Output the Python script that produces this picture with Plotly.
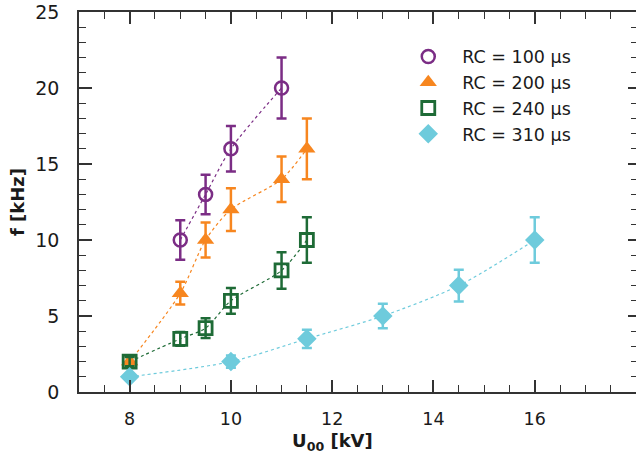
import plotly.graph_objects as go

# ---- data ----
x_rc100 = [9, 9.5, 10, 11]
y_rc100 = [10, 13, 16, 20]
e_rc100 = [1.3, 1.3, 1.5, 2.0]

x_rc200 = [8, 9, 9.5, 10, 11, 11.5]
y_rc200 = [2, 6.5, 10, 12, 14, 16]
e_rc200 = [0.3, 0.75, 1.15, 1.4, 1.5, 2.0]

x_rc240 = [8, 9, 9.5, 10, 11, 11.5]
y_rc240 = [2, 3.5, 4.2, 6, 8, 10]
e_rc240 = [0.3, 0.45, 0.65, 0.85, 1.2, 1.5]

x_rc310 = [8, 10, 11.5, 13, 14.5, 16]
y_rc310 = [1, 2, 3.5, 5, 7, 10]
e_rc310 = [0.2, 0.4, 0.6, 0.8, 1.05, 1.5]

names = ["RC = 100 µs", "RC = 200 µs", "RC = 240 µs", "RC = 310 µs"]
colors = ["#7B2D85", "#F7861F", "#1E6B36", "#6ECBDC"]

x_ticks = [8, 10, 12, 14, 16]
y_ticks = [0, 5, 10, 15, 20, 25]

series = [
    (x_rc100, y_rc100, e_rc100, dict(symbol="circle-open", size=13, line=dict(width=2.5))),
    (x_rc200, y_rc200, e_rc200, dict(symbol="triangle-up", size=15)),
    (x_rc240, y_rc240, e_rc240, dict(symbol="square-open", size=13, line=dict(width=2.8))),
    (x_rc310, y_rc310, e_rc310, dict(symbol="diamond", size=15)),
]

fig = go.Figure()

# fit guide lines (dotted)
for (xs, ys, es, mk), c in zip(series, colors):
    fig.add_trace(go.Scatter(x=xs, y=ys, mode="lines",
                             line=dict(color=c, width=1.2, dash="dot", shape="spline", smoothing=0.8),
                             showlegend=False, hoverinfo="skip"))

# markers with error bars
for (xs, ys, es, mk), c, n in zip(series, colors, names):
    m = dict(mk)
    m["color"] = c
    if "line" in m:
        m["line"] = dict(m["line"], color=c)
    fig.add_trace(go.Scatter(x=xs, y=ys, mode="markers", name=n, marker=m,
                             error_y=dict(type="data", array=es, visible=True,
                                          color=c, thickness=2.5, width=5)))

# invisible trace on right axis to render mirrored ticks
fig.add_trace(go.Scatter(x=[7], y=[0], yaxis="y2", mode="markers",
                         marker=dict(opacity=0), showlegend=False, hoverinfo="skip"))

axis_color = "#333333"
font_family = "DejaVu Sans"

fig.update_layout(
    width=636, height=459,
    margin=dict(l=79, r=0, t=12, b=67),
    paper_bgcolor="white", plot_bgcolor="white",
    font=dict(family=font_family, size=17, color="#1a1a1a"),
    showlegend=True,
    legend=dict(x=0.566, y=0.93, xanchor="left", yanchor="top",
                bgcolor="rgba(0,0,0,0)", font=dict(size=17.5),
                itemsizing="trace", itemwidth=58, tracegroupgap=0),
    xaxis=dict(range=[7, 18], tickvals=x_ticks, ticktext=[str(v) for v in x_ticks],
               showgrid=False, zeroline=False, showline=True, linecolor=axis_color,
               linewidth=1.5, mirror="ticks", ticks="inside", ticklen=12, tickwidth=1.5,
               tickcolor=axis_color, ticklabelstandoff=10, tickfont=dict(size=17.5),
               minor=dict(dtick=0.5, tick0=0, ticks="inside", ticklen=7, tickcolor=axis_color,
                          tickwidth=1.2, showgrid=False)),
    yaxis=dict(range=[0, 25], tickvals=y_ticks, ticktext=[str(v) for v in y_ticks],
               showgrid=False, zeroline=False, showline=True, linecolor=axis_color,
               linewidth=1.5, mirror=False, ticks="inside", ticklen=13, tickwidth=1.5,
               tickcolor=axis_color, ticklabelstandoff=14, tickfont=dict(size=19),
               minor=dict(dtick=1, tick0=0, ticks="inside", ticklen=7, tickcolor=axis_color,
                          tickwidth=1.2, showgrid=False),
               title=dict(text="<b>f [kHz]</b>", font=dict(size=18), standoff=6)),
    yaxis2=dict(range=[0, 25], overlaying="y", side="right", tickvals=y_ticks,
                showticklabels=False, showgrid=False, zeroline=False, showline=False,
                ticks="inside", ticklen=8, tickwidth=1.5, tickcolor=axis_color,
                minor=dict(dtick=1, tick0=0, ticks="inside", ticklen=5, tickcolor=axis_color,
                           tickwidth=1.2, showgrid=False)),
    annotations=[dict(text="<b>U<sub>00</sub> [kV]</b>", xref="paper", yref="paper",
                      x=(332 - 79) / 557, y=-(442 - 392) / 380, xanchor="center", yanchor="middle",
                      showarrow=False, font=dict(size=18, color="#1a1a1a"))],
)

fig.write_html("out.html")
